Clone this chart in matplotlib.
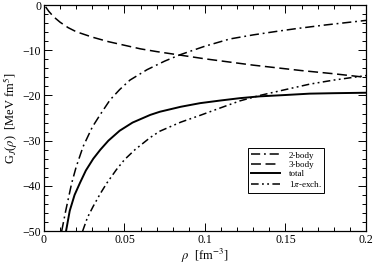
import matplotlib
matplotlib.use("Agg")
import matplotlib.pyplot as plt
from matplotlib.ticker import MultipleLocator, FuncFormatter

# data
rho_2b = [0.011, 0.0135, 0.0155, 0.0172, 0.020, 0.0243, 0.030, 0.0348, 0.041, 0.047, 0.0534,
          0.064, 0.075, 0.0845, 0.100, 0.1155, 0.130, 0.145, 0.157, 0.175, 0.200]
g_2b = [-50, -45.5, -42.2, -39.4, -35.8, -31.3, -27.0, -24.3, -21.0, -18.7, -16.6,
        -14.3, -12.4, -11.0, -9.1, -7.5, -6.6, -5.8, -5.2, -4.4, -3.4]

rho_3b = [0.001, 0.003, 0.006, 0.010, 0.015, 0.020, 0.030, 0.040, 0.050, 0.060, 0.070,
          0.085, 0.100, 0.115, 0.130, 0.145, 0.160, 0.180, 0.200]
g_3b = [-0.4, -1.4, -2.6, -3.8, -5.0, -5.9, -7.1, -8.1, -8.9, -9.7, -10.3,
        -11.1, -11.9, -12.6, -13.3, -13.9, -14.5, -15.2, -16.0]

rho_tot = [0.0137, 0.016, 0.019, 0.0224, 0.026, 0.0306, 0.035, 0.040, 0.047, 0.055, 0.066,
           0.072, 0.085, 0.097, 0.110, 0.1217, 0.134, 0.150, 0.165, 0.180, 0.200]
g_tot = [-50, -45.5, -42.0, -39.3, -36.6, -34.0, -32.0, -30.0, -27.8, -26.0, -24.3,
         -23.6, -22.5, -21.7, -21.1, -20.6, -20.2, -19.9, -19.6, -19.5, -19.4]

rho_1pi = [0.024, 0.027, 0.0306, 0.035, 0.039, 0.045, 0.050, 0.0565, 0.066, 0.072, 0.085,
           0.097, 0.110, 0.1217, 0.134, 0.150, 0.165, 0.180, 0.200]
g_1pi = [-50, -47.0, -44.5, -41.7, -39.4, -36.4, -34.2, -32.0, -29.3, -27.9, -25.9,
         -24.4, -22.7, -21.2, -20.0, -18.7, -17.5, -16.6, -15.6]

labels = ["2-body", "3-body", "total", r"1$\pi$-exch."]

plt.rcParams['font.family'] = ['Liberation Serif', 'DejaVu Serif']
plt.rcParams['mathtext.fontset'] = 'stix'

fig = plt.figure(figsize=(3.75, 2.65), dpi=100)
ax = fig.add_axes([0.1173, 0.128, 0.976 - 0.1173, 0.981 - 0.128])

lw = 1.1
ax.plot(rho_2b, g_2b, color='black', lw=lw, dashes=[6, 2.5, 1.2, 2.5], label=labels[0])
ax.plot(rho_3b, g_3b, color='black', lw=lw, dashes=[6.5, 3], label=labels[1])
ax.plot(rho_tot, g_tot, color='black', lw=1.4, label=labels[2])
ax.plot(rho_1pi, g_1pi, color='black', lw=lw, dashes=[5, 2.2, 1.2, 2.2, 1.2, 2.2], label=labels[3])

ax.set_xlim(0, 0.2)
ax.set_ylim(-50, 0)
ax.xaxis.set_major_locator(MultipleLocator(0.05))
ax.xaxis.set_minor_locator(MultipleLocator(0.01))
ax.yaxis.set_major_locator(MultipleLocator(10))
ax.yaxis.set_minor_locator(MultipleLocator(2))
ax.xaxis.set_major_formatter(FuncFormatter(lambda v, p: f"{v:g}"))
ax.tick_params(which='both', direction='in', top=True, right=True, labelsize=8.5, pad=2)
ax.tick_params(which='major', length=6, width=0.7)
ax.tick_params(which='minor', length=3, width=0.7)
for s in ax.spines.values():
    s.set_linewidth(0.9)

ax.set_xlabel(r"$\rho$  [fm$^{-3}$]", fontsize=9, labelpad=1)
ax.set_ylabel(r"G$_J$($\rho$)  [MeV fm$^5$]", fontsize=9, labelpad=2)

leg = ax.legend(loc='lower right', bbox_to_anchor=(0.885, 0.15), fontsize=6.5,
                frameon=True, fancybox=False, edgecolor='black', framealpha=1,
                handlelength=3.2, handletextpad=1.0, borderpad=0.35, labelspacing=0.12)
leg.get_frame().set_linewidth(0.7)

fig.savefig("out.png", dpi=100)
